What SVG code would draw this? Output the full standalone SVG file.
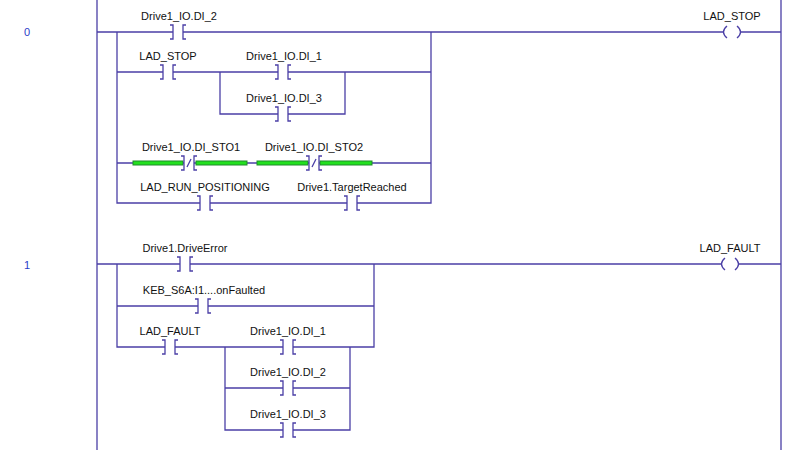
<svg xmlns="http://www.w3.org/2000/svg" width="800" height="450" viewBox="0 0 800 450">
<style>
.w{stroke:#4b3fa6;stroke-width:1.3;fill:none}
.c{stroke:#4b3fa6;stroke-width:1.3;fill:none}
text{font-family:"Liberation Sans",Arial,sans-serif;font-size:11px;fill:#111;text-anchor:middle}
.n{fill:#2a3cc8;text-anchor:start}
.g{fill:#22e01e;stroke:#1e8a2a;stroke-width:1}
</style>
<defs>
<g id="no"><rect x="-5" y="-2" width="10" height="4" fill="#fff"/><path class="c" d="M-8,-7h3v14h-3M8,-7h-3v14h3"/></g>
<g id="nc"><rect x="-5" y="-2" width="10" height="4" fill="#fff"/><path class="c" d="M-8,-7h3v14h-3M8,-7h-3v14h3M-2,4L2,-4"/></g>
<g id="coil"><rect x="-8" y="-2" width="16" height="4" fill="#fff"/><path class="c" d="M-5,-6Q-12,0 -5,6M5,-6Q12,0 5,6"/></g>
</defs>
<g id="connectors">
<path class="w" d="M97,0V450M781,0V450"/>
<path class="w" d="M97,32H781M117,32V203H431V32M117,72H431M220,72V114H345V72M117,163H431"/>
<path class="w" d="M97,264H781M117,264V347H374V264M117,306H374M225,347V430H350V347M225,388H350"/>
</g>
<text class="n" x="24" y="36">0</text>
<text class="n" x="24" y="269">1</text>
<g id="r0c1"><use href="#no" x="178" y="32"/><text x="179" y="20">Drive1_IO.DI_2</text></g>
<g id="r0c2"><use href="#no" x="168" y="72"/><text x="168" y="60">LAD_STOP</text></g>
<g id="r0c3"><use href="#no" x="283" y="72"/><text x="284" y="60">Drive1_IO.DI_1</text></g>
<g id="r0c4"><use href="#no" x="283" y="114"/><text x="284" y="102">Drive1_IO.DI_3</text></g>
<g id="r0c5"><rect class="g" x="133" y="161" width="50" height="4"/><rect class="g" x="196" y="161" width="51" height="4"/><use href="#nc" x="189" y="163"/><text x="191" y="151">Drive1_IO.DI_STO1</text></g>
<g id="r0c6"><rect class="g" x="257" y="161" width="51" height="4"/><rect class="g" x="320" y="161" width="52" height="4"/><use href="#nc" x="314" y="163"/><text x="314" y="151">Drive1_IO.DI_STO2</text></g>
<g id="r0c7"><use href="#no" x="205" y="203"/><text x="205" y="191">LAD_RUN_POSITIONING</text></g>
<g id="r0c8"><use href="#no" x="352" y="203"/><text x="352" y="191">Drive1.TargetReached</text></g>
<g id="r0coil"><use href="#coil" x="732" y="32"/><text x="732" y="20">LAD_STOP</text></g>
<g id="r1c1"><use href="#no" x="185" y="264"/><text x="185" y="252">Drive1.DriveError</text></g>
<g id="r1c2"><use href="#no" x="203" y="306"/><text x="204" y="294">KEB_S6A:I1....onFaulted</text></g>
<g id="r1c3"><use href="#no" x="170" y="347"/><text x="170" y="335">LAD_FAULT</text></g>
<g id="r1c4"><use href="#no" x="288" y="347"/><text x="288" y="335">Drive1_IO.DI_1</text></g>
<g id="r1c5"><use href="#no" x="288" y="388"/><text x="288" y="376">Drive1_IO.DI_2</text></g>
<g id="r1c6"><use href="#no" x="288" y="430"/><text x="288" y="418">Drive1_IO.DI_3</text></g>
<g id="r1coil"><use href="#coil" x="730" y="264"/><text x="730" y="252">LAD_FAULT</text></g>
</svg>
